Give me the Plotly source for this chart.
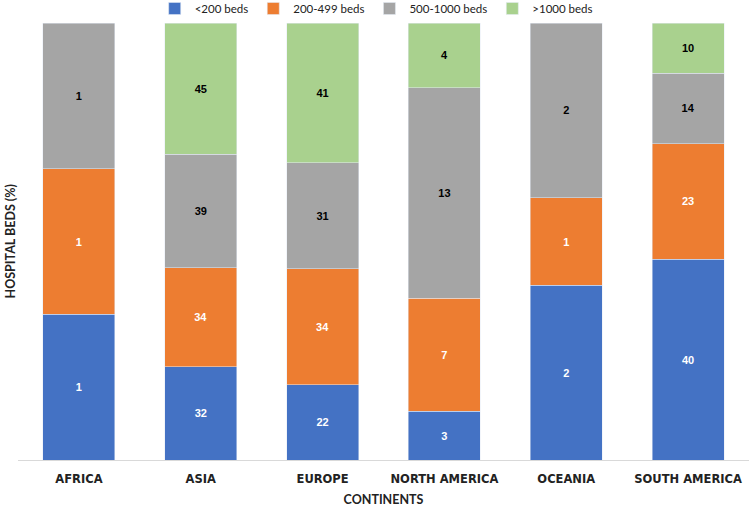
import plotly.graph_objects as go

continents = ["AFRICA", "ASIA", "EUROPE", "NORTH AMERICA", "OCEANIA", "SOUTH AMERICA"]
series_names = ["<200 beds", "200-499 beds", "500-1000 beds", ">1000 beds"]
lt200 = [1, 32, 22, 3, 2, 40]
b200_499 = [1, 34, 34, 7, 1, 23]
b500_1000 = [1, 39, 31, 13, 2, 14]
gt1000 = [None, 45, 41, 4, None, 10]

colors = ["#4472C4", "#ED7D31", "#A5A5A5", "#A9D18E"]
text_colors = ["white", "white", "black", "black"]

fig = go.Figure()
for name, vals, c, tc in zip(series_names, [lt200, b200_499, b500_1000, gt1000], colors, text_colors):
    fig.add_trace(go.Bar(
        x=continents, y=vals, name=name, marker_color=c,
        text=[("" if v is None else str(v)) for v in vals],
        textposition="inside", insidetextanchor="middle",
        textfont=dict(color=tc, size=11, family="Liberation Sans"),
        texttemplate="<b>%{text}</b>",
        hoverinfo="skip",
    ))

fig.update_layout(
    barmode="stack", barnorm="percent", bargap=0.41,
    width=753, height=507,
    margin=dict(l=18, r=4, t=23, b=47, autoexpand=False),
    plot_bgcolor="white", paper_bgcolor="white",
    font=dict(family="Lato", color="#222"),
    legend=dict(orientation="h", x=0.49, xanchor="center", y=1.0, yanchor="bottom",
                font=dict(size=11.5, family="Lato", color="#222"), traceorder="normal",
                itemwidth=30, tracegroupgap=0),
    showlegend=True,
    uniformtext=dict(minsize=8, mode="show"),
    annotations=[dict(
        text="<b>HOSPITAL BEDS (%)</b>", xref="paper", yref="paper", x=0, y=0.5,
        xanchor="center", yanchor="middle", xshift=-8, textangle=-90, showarrow=False,
        font=dict(size=12.5, family="Lato", color="#222"),
    )],
)
fig.update_xaxes(
    showline=True, linecolor="#D9D9D9", linewidth=1, ticks="",
    tickfont=dict(size=11.5, family="DejaVu Sans", color="#222", weight="bold"),
    ticklabelstandoff=8,
    title=dict(text="<b>CONTINENTS</b>", font=dict(size=12.5, family="Lato", color="#222"), standoff=10),
    automargin=False,
)
fig.update_yaxes(
    range=[0, 100], showticklabels=False, showgrid=False, zeroline=False,
    automargin=False,
)
fig.write_html("out.html", config={"displayModeBar": False},
               post_script="document.body.style.margin='0';document.body.style.padding='0';")
